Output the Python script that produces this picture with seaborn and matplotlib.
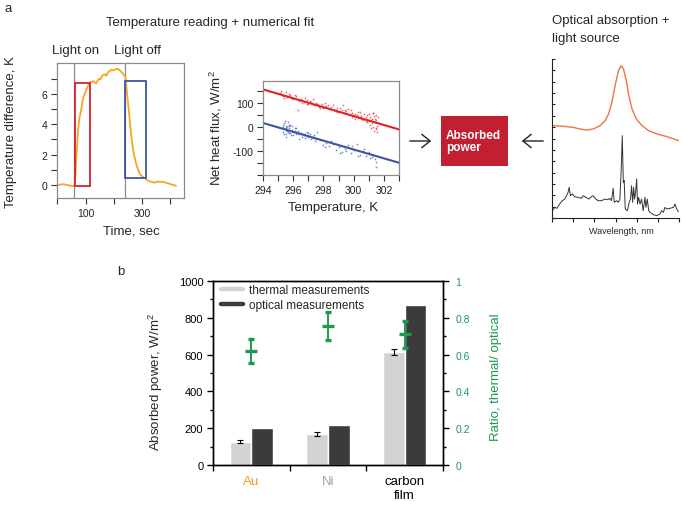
import numpy as np
import pandas as pd
import matplotlib
matplotlib.use("Agg")
import matplotlib.pyplot as plt
import seaborn as sns
from matplotlib.ticker import FixedLocator, FixedFormatter, FuncFormatter, NullFormatter, MultipleLocator
from matplotlib.patches import Rectangle, FancyArrowPatch
from matplotlib.lines import Line2D

# ---------------- data ----------------
# panel a1: temperature reading
time_s = [2, 20, 40, 55, 61, 64, 67, 70, 73, 78,
          85, 91, 97, 103, 109, 115, 121, 127, 133, 138,
          143, 148, 153, 157, 162, 168, 174, 180, 186, 192,
          198, 204, 210, 215, 221, 227, 233, 239, 241, 244,
          247, 250, 254, 258, 262, 266, 270, 275, 280, 286,
          292, 298, 304, 310, 316, 325, 334, 343, 352, 361,
          370, 379, 388, 397, 406, 413, 420]
temp_diff = [0.0, 0.05, -0.02, -0.08, -0.05, 0.6, 1.7, 2.6, 3.5, 4.4,
             5.0, 5.7, 6.0, 6.3, 6.55, 6.75, 6.8, 6.85, 6.75, 6.7,
             6.9, 7.0, 6.95, 7.15, 7.25, 7.3, 7.2, 7.45, 7.5, 7.6,
             7.55, 7.6, 7.65, 7.65, 7.55, 7.45, 7.3, 7.2, 7.1, 6.6,
             6.0, 5.4, 4.7, 3.9, 3.2, 2.6, 2.1, 1.7, 1.3, 1.0,
             0.7, 0.6, 0.5, 0.45, 0.33, 0.25, 0.2, 0.15, 0.2, 0.22,
             0.2, 0.18, 0.12, 0.08, 0.02, -0.02, -0.05]
light_events = [60, 240]
heat_box_t = [61, 115]
heat_box_y = [-0.08, 6.72]
cool_box_t = [241, 313]
cool_box_y = [0.45, 6.85]

# panel a2: net heat flux vs temperature
red_T = [295.1, 295.3, 295.5, 295.6, 295.8, 296.0, 296.2, 296.4, 296.5, 296.7,
         296.9, 297.0, 297.2, 297.4, 297.5, 297.7, 297.9, 298.0, 298.2, 298.4,
         298.5, 298.7, 298.9, 299.0, 299.2, 299.4, 299.5, 299.7, 299.9, 300.0,
         300.2, 300.3, 300.5, 300.6, 300.8, 300.9, 301.0, 301.1, 301.2, 301.3,
         301.35, 301.4, 301.45, 301.5, 301.55, 301.6, 296.3, 299.3, 298.1, 300.4,
         295.4, 296.6, 297.3, 298.3, 299.1, 299.8, 300.7, 301.25, 301.5, 300.1,
         295.2, 295.7, 296.1, 296.8, 297.1, 297.6, 298.6, 298.8, 299.6, 300.1,
         300.5, 300.9, 301.0, 301.05, 301.15, 301.3, 301.4, 301.45, 301.55, 301.6,
         301.2, 301.35, 300.8, 300.3, 299.9, 299.4, 298.9, 297.8, 296.9, 295.9]
red_F = [140, 130, 145, 125, 135, 120, 128, 110, 118, 105,
         112, 98, 104, 92, 100, 85, 95, 80, 88, 75,
         84, 70, 78, 62, 72, 58, 66, 50, 60, 45,
         52, 38, 48, 30, 40, 20, 55, 10, 35, 0,
         45, 20, -10, 30, 5, 15, 70, 90, 100, 62,
         120, 100, 115, 92, 80, 70, 55, 60, -5, 35,
         150, 138, 132, 120, 110, 95, 90, 72, 75, 55,
         35, 50, 25, 40, -5, 60, 35, 50, -20, 40,
         15, -15, 25, 62, 40, 70, 62, 80, 95, 118]
blue_T = [295.3, 295.35, 295.4, 295.45, 295.5, 295.55, 295.6, 295.65, 295.7, 295.75,
          295.8, 295.85, 295.9, 296.0, 296.1, 296.2, 296.3, 296.5, 296.7, 296.9,
          297.0, 297.1, 297.3, 297.4, 297.5, 297.8, 298.0, 298.2, 298.4, 298.6,
          298.8, 299.0, 299.2, 299.4, 299.6, 299.8, 300.0, 300.2, 300.4, 300.6,
          300.8, 301.0, 301.2, 301.4, 301.5, 296.4, 297.6, 295.5, 295.7, 296.8,
          295.35, 295.4, 295.45, 295.5, 295.55, 295.6, 295.65, 295.7, 295.8, 295.9,
          296.0, 296.1, 296.2, 296.35, 296.6, 296.8, 297.0, 297.2, 297.35, 297.45,
          298.1, 298.5, 299.1, 299.5, 299.9, 300.3, 300.7, 301.1, 301.3, 301.5]
blue_F = [0, -20, 15, -10, -30, 5, -15, 20, -25, -5,
          10, -35, -12, -20, -5, -28, -15, -25, -35, -22,
          -40, -30, -45, -35, -50, -55, -75, -65, -80, -70,
          -95, -85, -105, -90, -75, -110, -95, -70, -115, -100,
          -120, -105, -125, -135, -165, -50, -20, -10, 5, -45,
          10, -30, 25, -5, -40, 0, -20, 10, -25, 5,
          -35, -15, -5, -30, -40, -30, -25, -50, -40, -60,
          -85, -60, -110, -100, -80, -120, -90, -130, -115, -145]
fit_T = [294, 303]
red_fit = [157, -10]
blue_fit = [17, -149]

# panel a3: optical absorption + light source
abs_x = [0, 0.52, 1.0, 1.32, 1.63, 1.95, 2.27, 2.51, 2.67, 2.83, 2.98, 3.14,
         3.27, 3.38, 3.51, 3.63, 3.78, 3.98, 4.25, 4.57, 4.97, 5.37, 5.76, 6.0]
abs_y = [0.581, 0.577, 0.570, 0.560, 0.553, 0.560, 0.581, 0.612, 0.654, 0.727, 0.832, 0.927,
         0.958, 0.937, 0.864, 0.769, 0.686, 0.623, 0.581, 0.549, 0.528, 0.514, 0.497, 0.486]
lamp_x = [0.02, 0.13, 0.24, 0.36, 0.49, 0.60, 0.68, 0.76, 0.81, 0.87,
          0.96, 1.07, 1.23, 1.39, 1.47, 1.60, 1.75, 1.86, 1.94, 2.07,
          2.18, 2.34, 2.50, 2.65, 2.73, 2.81, 2.89, 2.94, 3.05, 3.13,
          3.21, 3.27, 3.32, 3.37, 3.41, 3.46, 3.56, 3.65, 3.71, 3.76,
          3.81, 3.86, 3.90, 3.95, 4.00, 4.04, 4.09, 4.16, 4.23, 4.31,
          4.39, 4.44, 4.50, 4.57, 4.63, 4.79, 4.95, 5.10, 5.18, 5.26,
          5.34, 5.42, 5.58, 5.74, 5.81, 5.89, 5.97]
lamp_y = [0.046, 0.067, 0.061, 0.088, 0.109, 0.119, 0.140, 0.161, 0.193, 0.140,
          0.151, 0.134, 0.130, 0.124, 0.140, 0.130, 0.119, 0.134, 0.140, 0.119,
          0.109, 0.109, 0.119, 0.115, 0.124, 0.109, 0.187, 0.099, 0.109, 0.099,
          0.119, 0.308, 0.518, 0.224, 0.235, 0.057, 0.046, 0.099, 0.119, 0.203,
          0.099, 0.193, 0.119, 0.161, 0.245, 0.088, 0.130, 0.088, 0.119, 0.046,
          0.130, 0.067, 0.119, 0.046, 0.036, 0.021, 0.015, 0.025, 0.046, 0.036,
          0.067, 0.057, 0.061, 0.067, 0.088, 0.057, 0.040]

# panel b
materials = ["Au", "Ni", "carbon\nfilm"]
thermal = [127, 167, 614]
thermal_err = [9, 12, 17]
optical = [203, 219, 868]
ratio = [0.62, 0.755, 0.71]
ratio_err = [0.064, 0.075, 0.072]

# ---------------- style ----------------
sns.set_theme(style="ticks")
plt.rcParams["font.family"] = ["Liberation Sans", "DejaVu Sans"]
plt.rcParams["mathtext.fontset"] = "custom"
plt.rcParams["mathtext.rm"] = "Liberation Sans"
plt.rcParams["mathtext.it"] = "Liberation Sans:italic"

ORANGE = "#F5A623"
RED = "#D8222E"
BLUE = "#3B55A4"
GREYSPINE = "#8a8a8a"
LGRAY = "#D2D3D3"
DGRAY = "#3B3B3B"
GREEN = "#1B9A50"
BOXRED = "#C21F30"

W, H = 685, 506
fig = plt.figure(figsize=(W / 100, H / 100), dpi=100)


def box(l, t, r, b):
    return [l / W, 1 - b / H, (r - l) / W, (b - t) / H]


def ft(x, y, s, **kw):
    kw.setdefault("ha", "center")
    kw.setdefault("va", "center")
    return fig.text(x / W, 1 - y / H, s, **kw)


LBL = 9.5

# ---------------- panel a1 ----------------
ax1 = fig.add_axes(box(57, 64, 184, 199))
for t in light_events:
    ax1.axvline(t, color="#8c8c8c", lw=0.9, zorder=1)
sns.lineplot(x=time_s, y=temp_diff, ax=ax1, color=ORANGE, lw=1.3, sort=False,
             estimator=None, zorder=2)
ax1.add_patch(Rectangle((heat_box_t[0], heat_box_y[0]), heat_box_t[1] - heat_box_t[0],
                        heat_box_y[1] - heat_box_y[0], fill=False, ec=RED, lw=1.3, zorder=3))
ax1.add_patch(Rectangle((cool_box_t[0], cool_box_y[0]), cool_box_t[1] - cool_box_t[0],
                        cool_box_y[1] - cool_box_y[0], fill=False, ec=BLUE, lw=1.3, zorder=3))
ax1.set_xlim(-1, 448)
ax1.set_ylim(-0.86, 8.04)
ax1.xaxis.set_major_locator(FixedLocator([0, 100, 200, 300, 400]))
ax1.xaxis.set_major_formatter(FuncFormatter(lambda v, p: f"{v:g}" if v in (100, 300) else ""))
ax1.yaxis.set_major_locator(FixedLocator([0, 1, 2, 3, 4, 5, 6, 7]))
ax1.yaxis.set_major_formatter(FuncFormatter(lambda v, p: f"{v:g}" if v in (0, 2, 4, 6) else ""))

# ---------------- panel a2 ----------------
ax2 = fig.add_axes(box(263, 82, 399, 176))
sns.scatterplot(x=red_T, y=red_F, ax=ax2, color="#E8383C", s=1.6, linewidth=0, alpha=0.75)
sns.scatterplot(x=blue_T, y=blue_F, ax=ax2, color="#4A66B8", s=1.6, linewidth=0, alpha=0.75)
sns.lineplot(x=fit_T, y=red_fit, ax=ax2, color="#E0202A", lw=1.5)
sns.lineplot(x=fit_T, y=blue_fit, ax=ax2, color=BLUE, lw=1.5)
ax2.set_xlim(294, 303)
ax2.set_ylim(-200, 192)
ax2.xaxis.set_major_locator(MultipleLocator(1))
ax2.xaxis.set_major_formatter(FuncFormatter(lambda v, p: f"{v:g}" if round(v) % 2 == 0 else ""))
ax2.yaxis.set_major_locator(MultipleLocator(50))
ax2.yaxis.set_major_formatter(FuncFormatter(lambda v, p: f"{v:g}" if round(v) % 100 == 0 and abs(v) < 150 else ""))

for ax in (ax1, ax2):
    for s in ax.spines.values():
        s.set_color(GREYSPINE)
        s.set_linewidth(0.9)
    ax.tick_params(direction="out", length=4, width=0.8, color="#333333",
                   labelsize=7.5, pad=3, labelcolor="#222222")
    ax.set_xlabel("")
    ax.set_ylabel("")

# ---------------- panel a3 ----------------
ax3 = fig.add_axes(box(552, 60, 679, 219))
sns.lineplot(x=abs_x, y=abs_y, ax=ax3, color="#F07242", lw=1.0, sort=False, estimator=None)
sns.lineplot(x=lamp_x, y=lamp_y, ax=ax3, color="#333333", lw=0.7, sort=False, estimator=None)
ax3.set_xlim(0, 6)
ax3.set_ylim(0, 1)
ax3.spines["top"].set_visible(False)
ax3.spines["right"].set_visible(False)
for s in ("left", "bottom"):
    ax3.spines[s].set_color("#222222")
    ax3.spines[s].set_linewidth(0.8)
ax3.xaxis.set_major_locator(MultipleLocator(1))
ax3.yaxis.set_major_locator(MultipleLocator(1 / 14))
ax3.xaxis.set_major_formatter(NullFormatter())
ax3.yaxis.set_major_formatter(NullFormatter())
ax3.tick_params(axis="x", direction="out", length=3, width=0.8, color="#222222")
ax3.tick_params(axis="y", direction="in", length=2.5, width=0.8, color="#222222")
ax3.set_xlabel("")
ax3.set_ylabel("")

# ---------------- panel b ----------------
axb = fig.add_axes(box(213, 282, 443, 466))
dfb = pd.DataFrame({
    "material": materials * 2,
    "power": thermal + optical,
    "method": ["thermal"] * 3 + ["optical"] * 3,
})
sns.barplot(data=dfb, x="material", y="power", hue="method", hue_order=["thermal", "optical"],
            palette=[LGRAY, DGRAY], width=0.566, gap=0, saturation=1, errorbar=None,
            legend=False, ax=axb, zorder=2)
therm_patches = sorted([p for p in axb.patches if np.allclose(p.get_facecolor()[:3],
                        matplotlib.colors.to_rgb(LGRAY))], key=lambda p: p.get_x())
tx = [p.get_x() + p.get_width() / 2 for p in therm_patches]
axb.errorbar(tx, thermal, yerr=thermal_err, fmt="none", ecolor="black", elinewidth=0.8,
             capsize=2, capthick=0.8, zorder=3)
axb.set_xlim(-0.5, 2.5)
axb.set_ylim(0, 1000)
axb.set_xlabel("")
axb.set_ylabel("")
axb.xaxis.set_major_locator(FixedLocator([-0.5, 0.5, 1.5, 2.5]))
axb.xaxis.set_major_formatter(NullFormatter())
axb.xaxis.set_minor_locator(FixedLocator([0, 1, 2]))
axb.xaxis.set_minor_formatter(FixedFormatter(materials))
axb.tick_params(axis="x", which="major", direction="out", length=4, width=1, color="black")
axb.tick_params(axis="x", which="minor", length=0, pad=7, labelsize=LBL)
axb.yaxis.set_major_locator(MultipleLocator(200))
axb.yaxis.set_minor_locator(MultipleLocator(100))
axb.tick_params(axis="y", which="major", direction="out", length=4, width=1, color="black",
                labelsize=8, pad=3, labelcolor="black")
axb.tick_params(axis="y", which="minor", direction="out", length=2.5, width=1, color="black")
for lbl, c in zip(axb.get_xticklabels(minor=True), ["#F39A2B", "#A0A0A0", "black"]):
    lbl.set_color(c)
    lbl.set_linespacing(1.25)
for s in axb.spines.values():
    s.set_color("black")
    s.set_linewidth(1.0)

axr = axb.twinx()
axr.errorbar([0, 1, 2], ratio, yerr=ratio_err, fmt="_", color=GREEN, ms=8, mew=2.4,
             elinewidth=1.4, capsize=2.5, capthick=1.4, zorder=4)
axr.set_ylim(0, 1)
axr.yaxis.set_major_locator(MultipleLocator(0.2))
axr.yaxis.set_minor_locator(MultipleLocator(0.1))
axr.yaxis.set_major_formatter(FuncFormatter(lambda v, p: f"{v:g}"))
axr.tick_params(axis="y", which="major", direction="out", length=4, width=1, color="black",
                labelsize=7.5, pad=5, labelcolor=GREEN)
axr.tick_params(axis="y", which="minor", direction="out", length=2.5, width=1, color="black")
for s in axr.spines.values():
    s.set_color("black")
    s.set_linewidth(1.0)

handles = [Line2D([], [], color=LGRAY, lw=3.2), Line2D([], [], color=DGRAY, lw=3.2)]
axb.legend(handles, ["thermal measurements", "optical measurements"], loc="upper left",
           bbox_to_anchor=(0.035, 0.983), frameon=False, fontsize=8.5, handlelength=1.9,
           handletextpad=0.45, labelspacing=0.28, borderpad=0, borderaxespad=0)

# ---------------- annotation texts ----------------
ft(8, 9, "a", fontsize=LBL)
ft(210, 23, "Temperature reading + numerical fit", fontsize=LBL)
ft(76, 51, "Light on", fontsize=LBL)
ft(137, 51, "Light off", fontsize=LBL)
ft(11, 132, "Temperature difference, K", fontsize=LBL, rotation=90)
ft(131, 232, "Time, sec", fontsize=LBL)
ft(216, 128, "Net heat flux, W/m$^\\mathregular{2}$", fontsize=LBL, rotation=90)
ft(333, 208, "Temperature, K", fontsize=LBL)
ft(552, 21, "Optical absorption +", fontsize=LBL, ha="left")
ft(552, 39, "light source", fontsize=LBL, ha="left")
ft(621, 232, "Wavelength, nm", fontsize=6.5)
ft(121, 272, "b", fontsize=LBL)
ft(156, 382, "Absorbed power, W/m$^\\mathregular{2}$", fontsize=LBL, rotation=90)
ft(496, 377, "Ratio, thermal/ optical", fontsize=LBL, rotation=90, color=GREEN)

# absorbed power box and arrows
fig.add_artist(Rectangle((441 / W, 1 - 167 / H), 67 / W, 50 / H, transform=fig.transFigure,
                         facecolor=BOXRED, edgecolor="none"))
ft(446, 142, "Absorbed\npower", fontsize=8.5, ha="left", color="white", fontweight="bold",
   linespacing=1.1)
for a, b in (((407, 142), (434, 142)), ((546, 142), (519, 142))):
    fig.add_artist(FancyArrowPatch((a[0] / W, 1 - a[1] / H), (b[0] / W, 1 - b[1] / H),
                                   transform=fig.transFigure, arrowstyle="->,head_length=0.5,head_width=0.4",
                                   mutation_scale=12, color="#222222", lw=1.0))

fig.savefig("out.png", dpi=100)
